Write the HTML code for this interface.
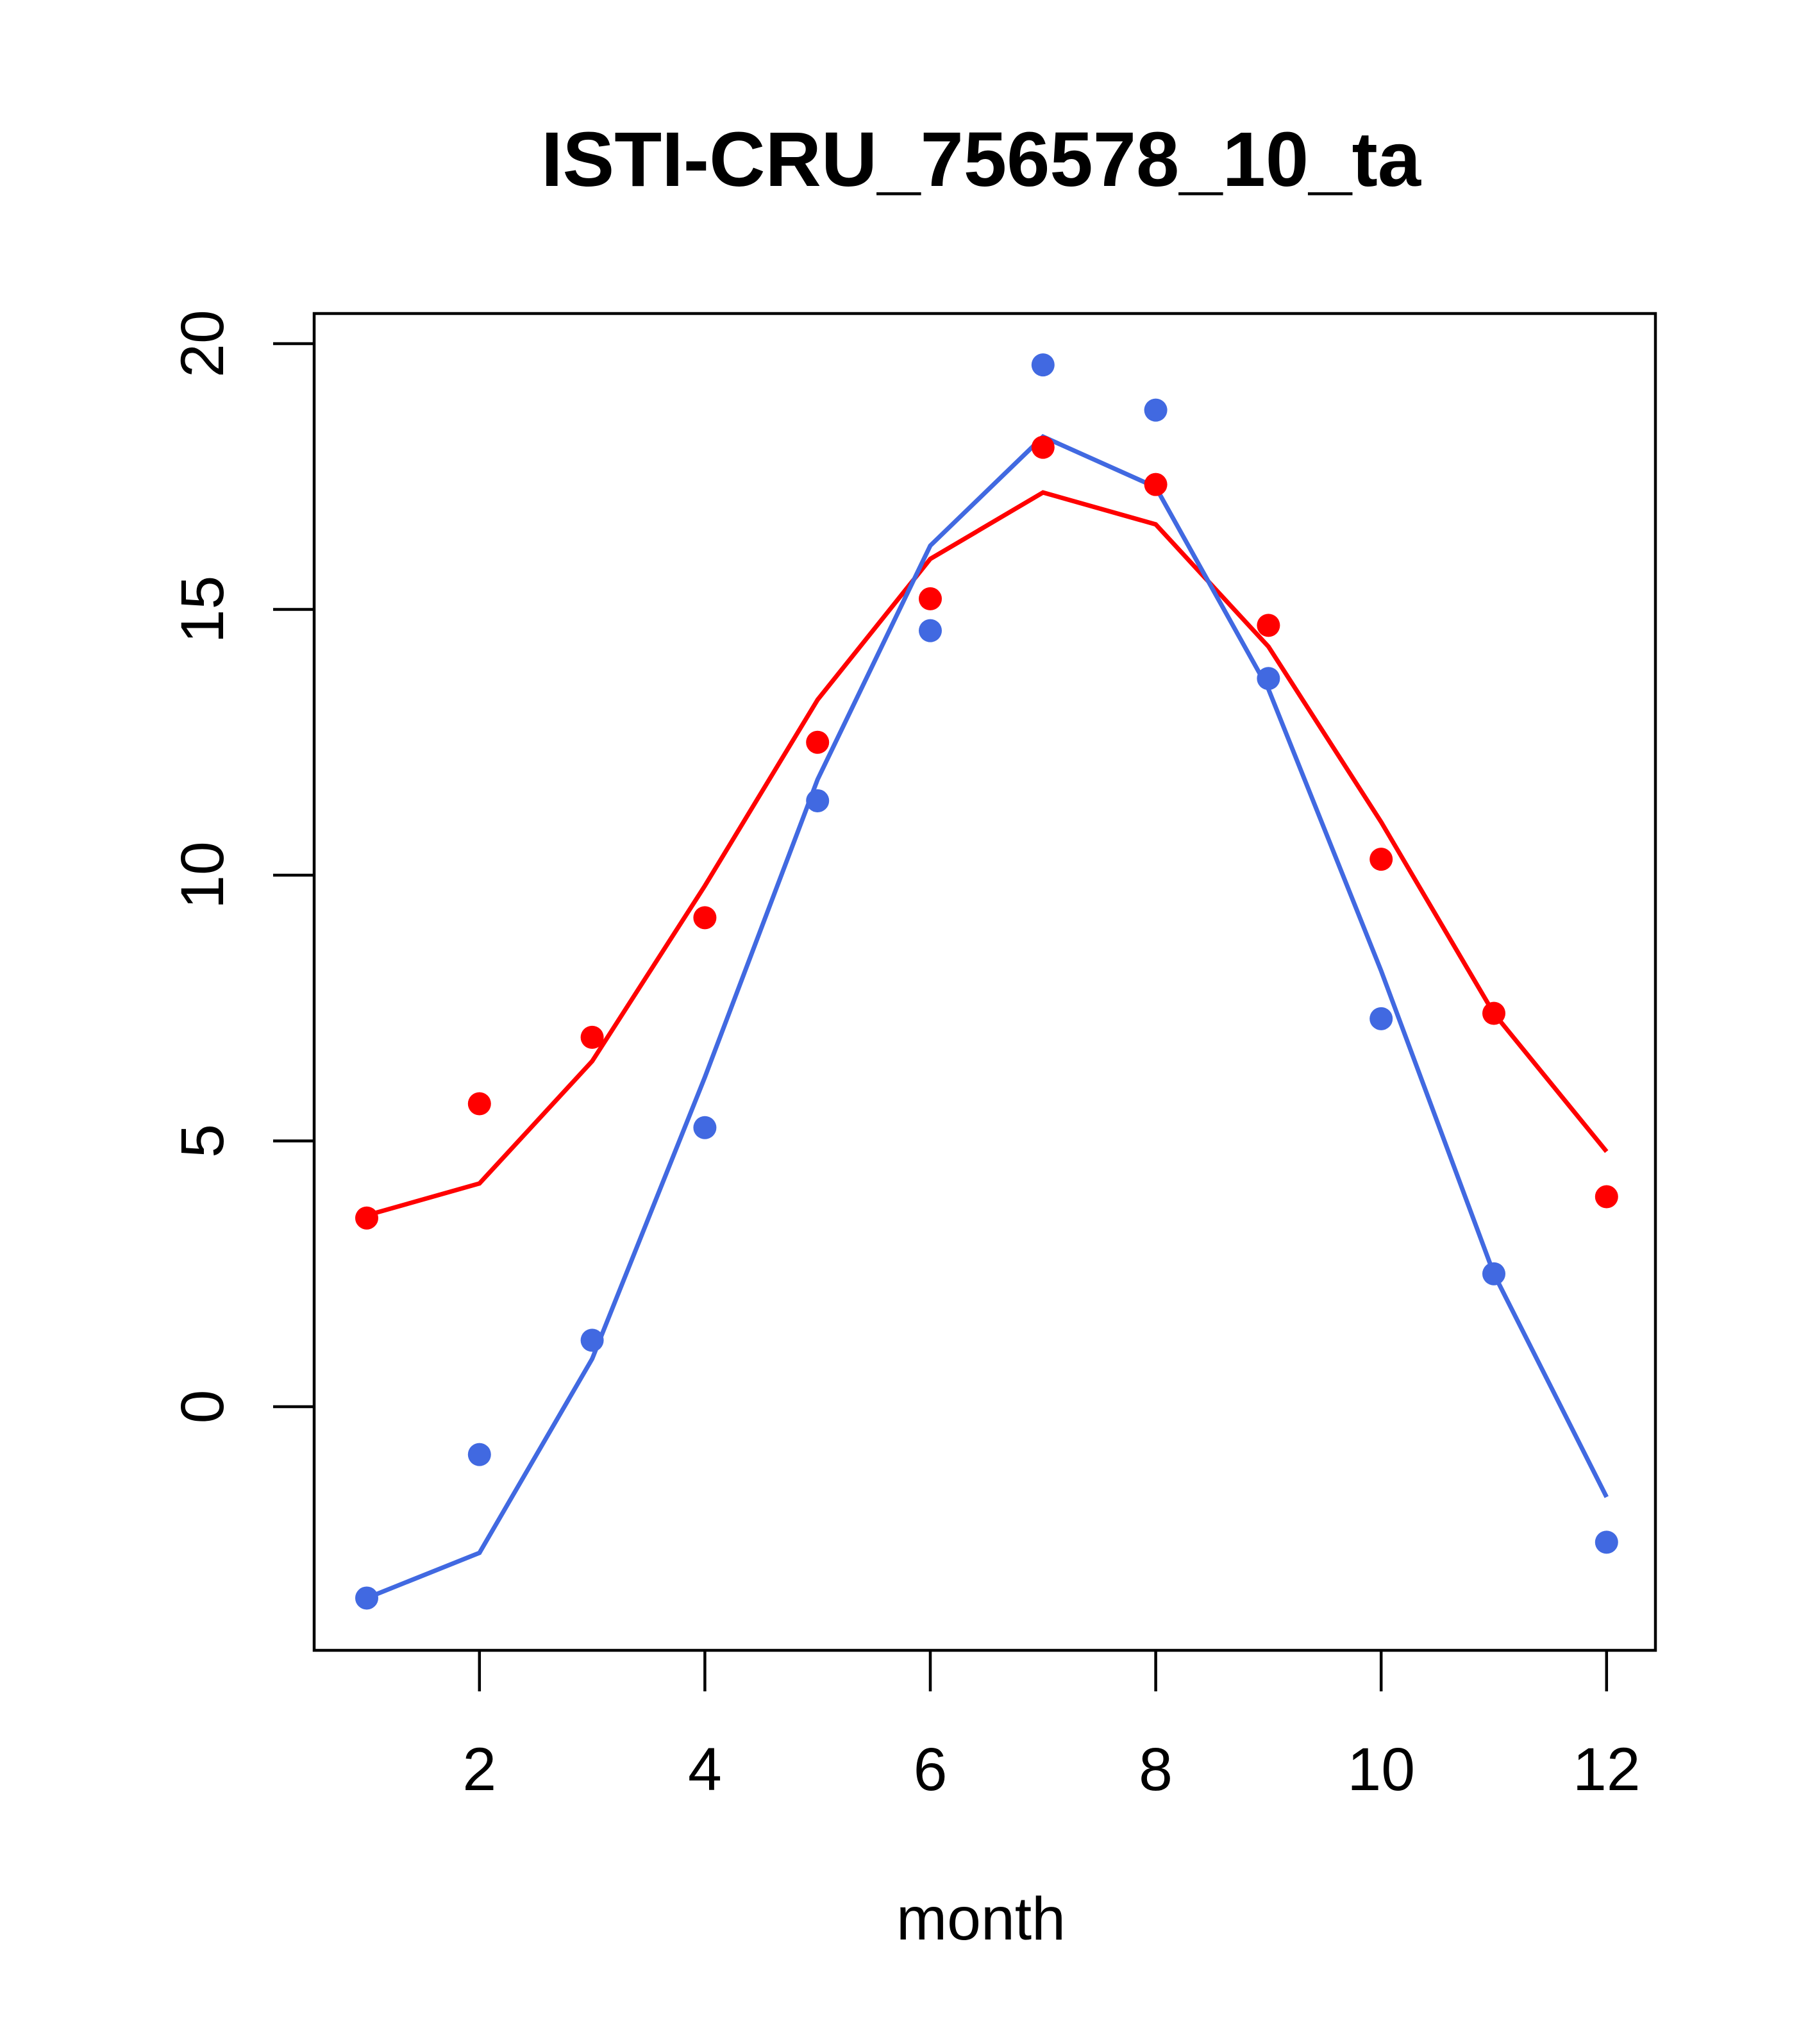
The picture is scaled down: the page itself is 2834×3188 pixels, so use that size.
<!DOCTYPE html>
<html><head><meta charset="utf-8"><style>body{margin:0;background:#fff}svg{display:block}text{font-family:"Liberation Sans",sans-serif}</style></head>
<body>
<svg id="chart" width="2834" height="3188" xmlns="http://www.w3.org/2000/svg">
<text x="1530" y="290" font-size="121" font-weight="bold" text-anchor="middle">ISTI-CRU_756578_10_ta</text>
<rect x="490" y="489" width="2092" height="2085" fill="none" stroke="#000" stroke-width="4.5"/>
<g id="axes"></g>
<g id="series"></g>
<text x="1530" y="3025" font-size="95" text-anchor="middle">month</text>
</svg>
<script>
const months=[1,2,3,4,5,6,7,8,9,10,11,12];
const redPoints=[3.55,5.7,6.95,9.2,12.5,15.2,18.05,17.35,14.7,10.3,7.4,3.95];
const redLine=[3.6,4.2,6.5,9.8,13.3,15.95,17.2,16.6,14.3,11.0,7.4,4.8];
const bluePoints=[-3.6,-0.9,1.25,5.25,11.4,14.6,19.6,18.75,13.7,7.3,2.5,-2.55];
const blueLine=[-3.6,-2.75,0.9,6.2,11.8,16.2,18.25,17.3,13.5,8.2,2.5,-1.7];
const xTicks=[2,4,6,8,10,12];
const yTicks=[0,5,10,15,20];
const NS="http://www.w3.org/2000/svg";
function xs(v){return 572+(v-1)*175.8;}
function ys(v){return 2194-v*82.9;}
function mk(tag,attrs,parent){const e=document.createElementNS(NS,tag);for(const k in attrs)e.setAttribute(k,attrs[k]);parent.appendChild(e);return e;}
const axes=document.getElementById('axes');
xTicks.forEach(t=>{
 const l=mk('line',{x1:xs(t),x2:xs(t),y1:2574,y2:2638,stroke:'#000','stroke-width':4.5},axes);
 
 
 const tx=mk('text',{x:xs(t),y:2792,'font-size':95,'text-anchor':'middle'},axes);
 tx.textContent=t;
 
 
});
yTicks.forEach(t=>{
 const l=mk('line',{x1:426,x2:490,y1:ys(t),y2:ys(t),stroke:'#000','stroke-width':4.5},axes);
 
 
 const tx=mk('text',{x:0,y:0,'font-size':95,'text-anchor':'middle',transform:`translate(348,${ys(t)}) rotate(-90)`},axes);
 tx.textContent=t;
 
 
});
const series=document.getElementById('series');
function drawLine(vals,color,name){
 const p=mk('polyline',{points:vals.map((v,i)=>xs(months[i])+','+ys(v)).join(' '),fill:'none',stroke:color,'stroke-width':7},series);
 
 
}
function drawPts(vals,color,name){
 vals.forEach((v,i)=>{
  const c=mk('circle',{cx:xs(months[i]),cy:ys(v),r:18,fill:color},series);
  
  
 });
}
drawLine(redLine,'#ff0000','red-line');
drawLine(blueLine,'#4169e1','blue-line');
drawPts(redPoints,'#ff0000','red-point');
drawPts(bluePoints,'#4169e1','blue-point');
</script>
</body></html>
